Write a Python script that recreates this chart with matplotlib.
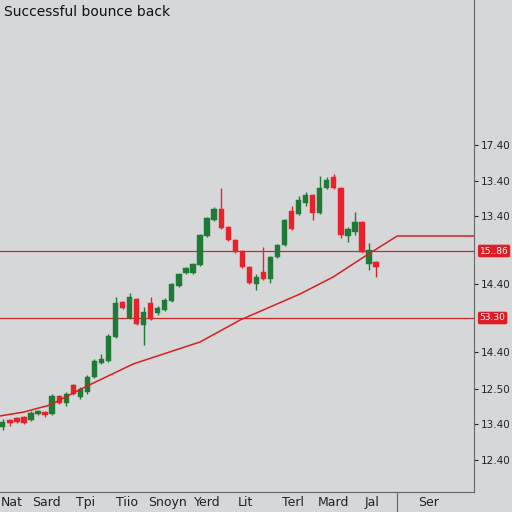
import matplotlib
matplotlib.use("Agg")
import matplotlib.pyplot as plt
import numpy as np

opens  = [7.33,8.0,8.17,8.27,8.0,8.57,8.77,8.6,10.4,9.67,11.5,10.33,10.83,12.33,13.67,13.93,16.33,19.83,18.17,20.07,17.5,19.73,18.73,19.0,19.93,21.4,22.67,22.67,23.5,26.43,28.0,29.07,27.27,26.0,24.93,23.27,21.6,22.83,22.07,24.33,25.5,28.93,28.57,29.67,30.5,28.67,31.17,32.27,31.17,26.43,26.83,27.83,23.6,23.83]
closes = [7.83,7.73,7.83,7.73,8.73,8.87,8.5,10.4,9.67,10.57,10.6,11.07,12.33,13.93,14.07,16.43,19.73,19.17,20.27,17.6,18.83,18.1,19.17,20.0,21.6,22.6,23.17,23.57,26.5,28.17,29.1,27.17,26.0,24.83,23.27,21.67,22.27,22.07,24.27,25.5,28.0,27.07,30.0,30.5,28.67,31.23,32.0,31.17,26.5,27.07,27.83,24.83,25.0,23.27]
upper_wick = [0.3,0.1,0.1,0.1,0.2,0.1,0.1,0.2,0.1,0.2,0.1,0.2,0.2,0.2,0.5,0.2,0.6,0.1,0.4,0.1,0.5,0.6,0.2,0.2,0.1,0.1,0.1,0.1,0.1,0.1,0.2,2.1,0.1,0.1,0.1,0.1,0.3,2.5,0.1,0.1,0.1,0.5,0.4,0.3,0.1,1.2,0.3,0.3,0.1,0.2,1.0,0.1,0.7,0.1]
lower_wick = [0.3,0.3,0.1,0.1,0.1,0.1,0.2,0.1,0.1,0.3,0.1,0.2,0.2,0.1,0.1,0.1,0.1,0.1,0.1,0.1,2.0,0.1,0.2,0.1,0.1,0.1,0.1,0.1,0.1,0.1,0.1,0.1,0.1,0.1,0.1,0.1,0.6,0.1,0.4,0.1,0.1,0.1,0.1,0.3,0.7,0.1,0.1,0.1,0.3,0.6,0.3,0.1,0.6,1.0]

ma_x = [-0.43,3.0,6.7,11.4,18.5,28.0,33.7,42.2,46.9,51.7,56.0,66.9]
ma_y = [8.4,8.8,9.5,11.2,13.6,15.8,18.0,20.6,22.3,24.5,26.4,26.4]

hlines = [24.9,18.2]
hline_labels = ["15..86","53.30"]

ytick_pos = [35.5,31.9,28.4,21.6,14.8,11.1,7.6,4.0]
ytick_labels = ["17.40","13.40","13.40","14.40","14.40","12.50","13.40","12.40"]
xtick_pos = [1.3,6.25,11.8,17.6,23.4,29.1,34.4,41.2,47.0,52.4,60.4]
xtick_labels = ["Nat","Sard","Tpi","Tiio","Snoyn","Yerd","Lit","Terl","Mard","Jal","Ser"]

bg = "#d6d7d9"
green = "#1e7a35"
red = "#e8212a"

fig = plt.figure(figsize=(5.12,5.12), dpi=100, facecolor=bg)
ax = fig.add_axes([0, 20/512, 474/512, 492/512], facecolor=bg)

for i,(o,c,uw,lw) in enumerate(zip(opens,closes,upper_wick,lower_wick)):
    col = green if c >= o else red
    hi = max(o,c)+uw; lo = min(o,c)-lw
    ax.vlines(i, lo, hi, color=col, lw=1, zorder=3)
    ax.bar(i, abs(c-o), bottom=min(o,c), width=0.75, color=col, zorder=4, edgecolor=col, lw=0.3)

ax.plot(ma_x, ma_y, color="#d42020", lw=1.1, zorder=5)
for h,lab in zip(hlines,hline_labels):
    ax.axhline(h, color="#c8282a", lw=0.9, zorder=2)
    ax.text(1.012, h, lab, transform=ax.get_yaxis_transform(), color="white", fontsize=6.5,
            va="center", ha="left", bbox=dict(boxstyle="round,pad=0.2", fc="#e01c24", ec="none"))

ax.set_xlim(-0.4, 66.9)
ax.set_ylim(0.8, 50)
ax.yaxis.tick_right()
ax.set_yticks(ytick_pos, ytick_labels)
ax.set_xticks(xtick_pos, xtick_labels)
ax.tick_params(axis="y", labelsize=7.5, colors="#222222", length=3, pad=2)
ax.tick_params(axis="x", labelsize=9, colors="#222222", length=0, pad=3)
for s in ["top","left"]:
    ax.spines[s].set_visible(False)
for s in ["right","bottom"]:
    ax.spines[s].set_color("#666666")
ax.axvline(56.0, ymin=-0.04, ymax=0, color="#666666", lw=0.8, clip_on=False)
fig.text(4/512, 1-12/512, "Successful bounce back", fontsize=10, va="center", ha="left", color="#111111")
fig.savefig("out.png", dpi=100, facecolor=bg)
